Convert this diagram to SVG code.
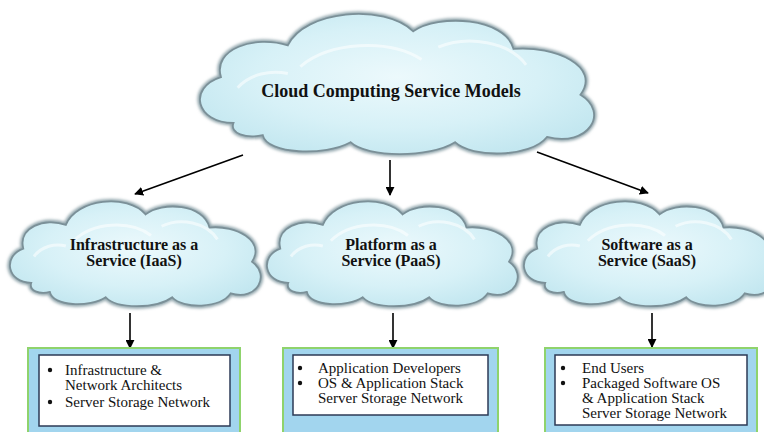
<svg xmlns="http://www.w3.org/2000/svg" xmlns:xlink="http://www.w3.org/1999/xlink" width="764" height="432" viewBox="0 0 764 432">
<style>
.ttl{font-family:"Liberation Serif","Times New Roman",serif;font-weight:bold;fill:#111;text-anchor:middle}
.lst{font-family:"Liberation Serif","Times New Roman",serif;font-size:15px;fill:#111}
.outer{fill:#a2d5ee;stroke:#8fd36c;stroke-width:2}
.inner{fill:#fff;stroke:#2c3a56;stroke-width:1.5}
.conn{stroke:#000;stroke-width:1.6;fill:none;marker-end:url(#ah)}
.cfill{fill:url(#cg);stroke:none}
.cedge{fill:none;stroke:#8fa4ab;stroke-width:5}
.cline{fill:none;stroke:#7b9098;stroke-width:1.8}
.hl{fill:none;stroke:#ffffff;stroke-opacity:0.55;stroke-width:3}
</style>
<defs>
<radialGradient id="cg" cx="50%" cy="45%" r="60%">
<stop offset="0" stop-color="#ecf9fc"/>
<stop offset="0.6" stop-color="#d7f1f7"/>
<stop offset="1" stop-color="#c3e7f0"/>
</radialGradient>
<filter id="soft" x="-10%" y="-10%" width="120%" height="120%">
<feGaussianBlur stdDeviation="1.4"/>
</filter>
<path id="cloud" vector-effect="non-scaling-stroke" d="M110,330 C20,330 0,230 80,200 C60,120 160,80 240,110 C280,10 470,-10 540,70 C600,20 760,30 780,120 C880,110 990,170 940,250 C1010,300 960,400 860,370 C820,430 680,430 640,385 C580,430 430,430 390,385 C330,425 190,420 180,365 C140,375 100,360 110,330 Z"/>
<path id="hlp" vector-effect="non-scaling-stroke" d="M270,170 C340,100 480,90 560,150 M600,115 C670,80 770,100 810,165 M120,230 C150,190 200,180 240,190"/>
<marker id="ah" viewBox="0 0 10 10" refX="9" refY="5" markerWidth="9" markerHeight="9" orient="auto" markerUnits="userSpaceOnUse">
<path d="M0,0 L10,5 L0,10 Z" fill="#000"/>
</marker>
</defs>
<rect width="764" height="432" fill="#fff"/>

<g id="connectors">
<line class="conn" x1="243" y1="155" x2="135" y2="194"/>
<line class="conn" x1="390" y1="160" x2="390" y2="195"/>
<line class="conn" x1="537" y1="152" x2="648" y2="193"/>
<line class="conn" x1="130" y1="313" x2="130" y2="348"/>
<line class="conn" x1="393" y1="313" x2="393" y2="348"/>
<line class="conn" x1="652" y1="313" x2="652" y2="347"/>
</g>

<g id="main">
<g filter="url(#soft)"><use xlink:href="#cloud" class="cedge" transform="translate(187.5,6.7) scale(0.418,0.352)"/></g>
<use xlink:href="#cloud" class="cfill" transform="translate(187.5,6.7) scale(0.418,0.352)"/>
<use xlink:href="#cloud" class="cline" transform="translate(187.5,6.7) scale(0.418,0.352)"/>
<use xlink:href="#hlp" class="hl" transform="translate(187.5,6.7) scale(0.418,0.352)"/>
<text class="ttl" x="391" y="97" font-size="18">Cloud Computing Service Models</text>
</g>

<g id="iaas">
<g filter="url(#soft)"><use xlink:href="#cloud" class="cedge" transform="translate(2,196) scale(0.266,0.263)"/></g>
<use xlink:href="#cloud" class="cfill" transform="translate(2,196) scale(0.266,0.263)"/>
<use xlink:href="#cloud" class="cline" transform="translate(2,196) scale(0.266,0.263)"/>
<use xlink:href="#hlp" class="hl" transform="translate(2,196) scale(0.266,0.263)"/>
<text class="ttl" x="134" y="250" font-size="16">Infrastructure as a</text>
<text class="ttl" x="134" y="266" font-size="16">Service (IaaS)</text>
</g>

<g id="paas">
<g filter="url(#soft)"><use xlink:href="#cloud" class="cedge" transform="translate(259,196) scale(0.266,0.263)"/></g>
<use xlink:href="#cloud" class="cfill" transform="translate(259,196) scale(0.266,0.263)"/>
<use xlink:href="#cloud" class="cline" transform="translate(259,196) scale(0.266,0.263)"/>
<use xlink:href="#hlp" class="hl" transform="translate(259,196) scale(0.266,0.263)"/>
<text class="ttl" x="391" y="250" font-size="16">Platform as a</text>
<text class="ttl" x="391" y="266" font-size="16">Service (PaaS)</text>
</g>

<g id="saas">
<g filter="url(#soft)"><use xlink:href="#cloud" class="cedge" transform="translate(516,196) scale(0.266,0.263)"/></g>
<use xlink:href="#cloud" class="cfill" transform="translate(516,196) scale(0.266,0.263)"/>
<use xlink:href="#cloud" class="cline" transform="translate(516,196) scale(0.266,0.263)"/>
<use xlink:href="#hlp" class="hl" transform="translate(516,196) scale(0.266,0.263)"/>
<text class="ttl" x="647" y="250" font-size="16">Software as a</text>
<text class="ttl" x="647" y="266" font-size="16">Service (SaaS)</text>
</g>

<g id="iaas-box">
<rect class="outer" x="28" y="348" width="212" height="92"/>
<rect class="inner" x="39" y="355" width="191" height="71"/>
<circle cx="50" cy="370" r="2.2" fill="#111"/>
<circle cx="50" cy="402" r="2.2" fill="#111"/>
<text class="lst" x="65" y="375">Infrastructure &amp;</text>
<text class="lst" x="65" y="390">Network Architects</text>
<text class="lst" x="65" y="407">Server Storage Network</text>
</g>

<g id="paas-box">
<rect class="outer" x="283" y="348" width="215" height="92"/>
<rect class="inner" x="293" y="355" width="195" height="60"/>
<circle cx="300" cy="368" r="2.2" fill="#111"/>
<circle cx="300" cy="383" r="2.2" fill="#111"/>
<text class="lst" x="318" y="373">Application Developers</text>
<text class="lst" x="318" y="388">OS &amp; Application Stack</text>
<text class="lst" x="318" y="403">Server Storage Network</text>
</g>

<g id="saas-box">
<rect class="outer" x="545" y="348" width="212" height="92"/>
<rect class="inner" x="555" y="355" width="192" height="70"/>
<circle cx="563" cy="368" r="2.2" fill="#111"/>
<circle cx="563" cy="383" r="2.2" fill="#111"/>
<text class="lst" x="582" y="373">End Users</text>
<text class="lst" x="582" y="388">Packaged Software OS</text>
<text class="lst" x="582" y="403">&amp; Application Stack</text>
<text class="lst" x="582" y="418">Server Storage Network</text>
</g>
</svg>
